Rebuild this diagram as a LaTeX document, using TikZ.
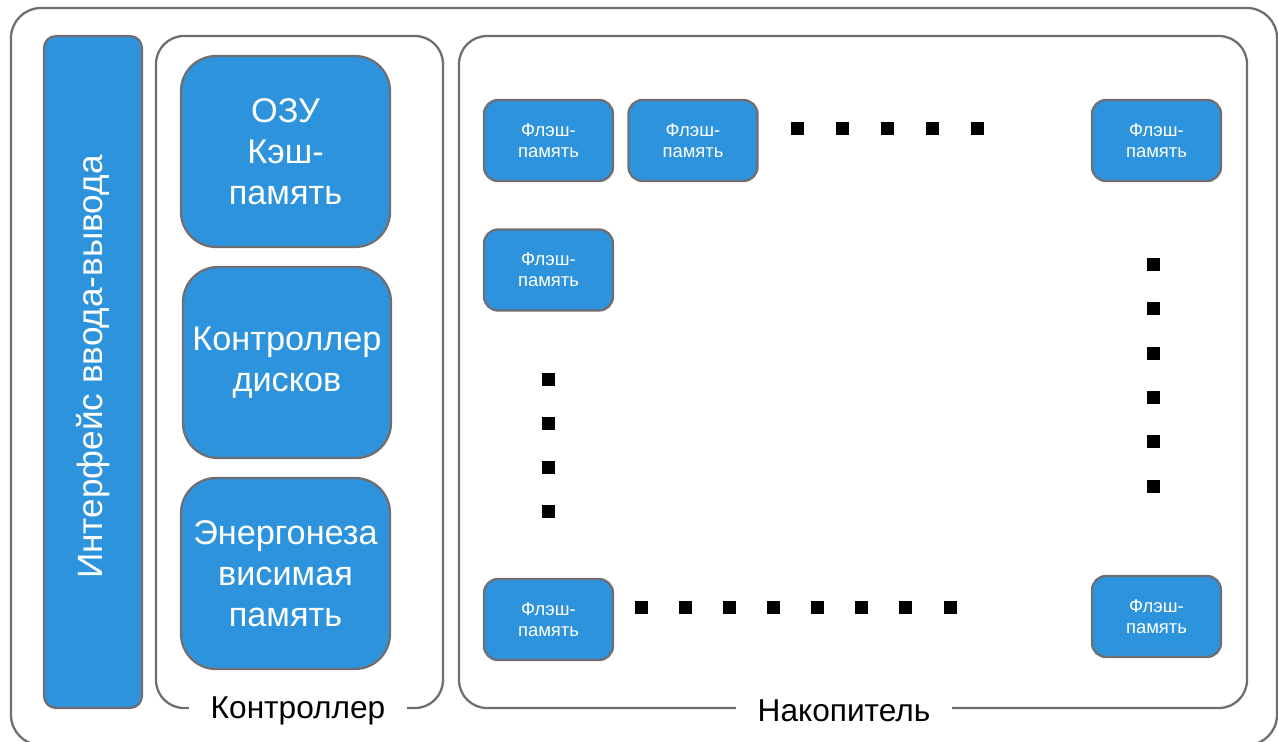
\documentclass[tikz,border=0pt]{standalone}
\usepackage{fontspec}
\setmainfont{Liberation Sans}
\usepackage{tikz}
\usetikzlibrary{positioning,calc}
\definecolor{myblue}{RGB}{45,147,220}
\definecolor{mygray}{RGB}{110,110,115}

\begin{document}
\begin{tikzpicture}[
  x=0.02cm, y=-0.02cm,
  line width=1.3pt,
  myframe/.style={
    draw=mygray,
    rounded corners=0.56cm
    },
  mybox/.style={
    draw=mygray,
    fill=myblue,
    text=white,
    align=center,
    inner sep=0pt,
    rounded corners=0.7cm,
    font=\fontsize{19.5}{23.5}\selectfont
    },
  myflash/.style={
    mybox,
    minimum width=2.58cm,
    minimum height=1.62cm,
    rounded corners=0.28cm,
    font=\fontsize{10.5}{12}\selectfont
    },
  mydot/.style={
    fill=black,
    minimum size=0.26cm,
    inner sep=0pt
    },
  mylabel/.style={
    fill=white,
    inner xsep=0.44cm,
    font=\fontsize{18}{21}\selectfont
    }
]
\useasboundingbox (0,0) rectangle (1278,741);

% frames
\draw[myframe, rounded corners=0.6cm] (11,8) rectangle (1277,745);
\draw[myframe] (156,36) rectangle (443,708);
\draw[myframe] (459,36) rectangle (1247,708);
\node[mylabel] (ctrl) at (298,711) {Контроллер};
\node[mylabel] (stor) at (844,711) {Накопитель};

% io interface
\node[mybox, minimum width=1.96cm, minimum height=13.44cm, rounded corners=0.24cm]
  (io) at (93,372) {};
\node[text=white, rotate=90, font=\fontsize{20}{24}\selectfont] (iotext) at (93,367)
  {Интерфейс ввода-вывода};

% controller parts
\node[mybox, minimum width=4.18cm, minimum height=3.82cm] (ram) at (285.5,151.5)
  {ОЗУ\\Кэш-\\память};
\node[mybox, minimum width=4.16cm, minimum height=3.82cm] (disk) at (287,362.5)
  {Контроллер\\дисков};
\node[mybox, minimum width=4.18cm, minimum height=3.82cm] (nvm) at (285.5,573.5)
  {Энергонеза\\висимая\\память};

% flash chips
\node[myflash] (f1) at (548.5,140.5) {Флэш-\\память};
\node[myflash] (f2) at (693,140.5) {Флэш-\\память};
\node[myflash] (f3) at (1156.5,140.5) {Флэш-\\память};
\node[myflash] (f4) at (548.5,270) {Флэш-\\память};
\node[myflash] (f5) at (548.5,619.5) {Флэш-\\память};
\node[myflash] (f6) at (1156.5,616.5) {Флэш-\\память};

% dots
\foreach \x [count=\i] in {797,842,887,932,977}
  \node[mydot] (t\i) at (\x,128) {};
\foreach \y [count=\i] in {264,308,353,397,441,486}
  \node[mydot] (r\i) at (1153,\y) {};
\foreach \y [count=\i] in {379,423,467,511}
  \node[mydot] (l\i) at (548,\y) {};
\foreach \x [count=\i] in {641,685,729,773,817,861,905,950}
  \node[mydot] (b\i) at (\x,607) {};

\end{tikzpicture}
\end{document}
